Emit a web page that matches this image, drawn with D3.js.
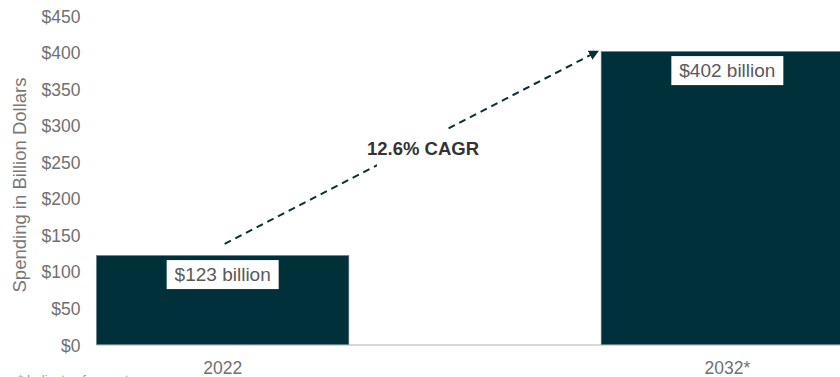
<!DOCTYPE html>
<html>
<head>
<meta charset="utf-8">
<script src="https://cdn.jsdelivr.net/npm/d3@7"></script>
<style>
  body { margin: 0; background: #fff; }
  svg { display: block; font-family: "Liberation Sans", Arial, sans-serif; }
</style>
</head>
<body>
<div id="chart"></div>
<script>
// chart data
const years = ["2022", "2032*"];
const spending = [123, 402];
const barLabels = ["$123 billion", "$402 billion"];
const yTicks = [0, 50, 100, 150, 200, 250, 300, 350, 400, 450];
const cagrText = "12.6% CAGR";
const arrowStart = 139; // value where the dashed arrow starts above 2022

var width = 840, height = 377;

var svg = d3.select("#chart").append("svg")
  .attr("width", width)
  .attr("height", height);

const xScale = d3.scaleBand()
  .domain(years)
  .range([96.5, 853.5])
  .paddingInner(0.5)
  .paddingOuter(0);

const yScale = d3.scaleLinear()
  .domain([0, 450])
  .range([345.5, 16.5]);

// y axis labels only
const yAxis = d3.axisLeft(yScale)
  .tickValues(yTicks)
  .tickSize(0)
  .tickPadding(0)
  .tickFormat(d => "$" + d);

svg.append("g")
  .attr("transform", "translate(80.5,0)")
  .call(yAxis)
  .call(g => g.select(".domain").remove())
  .selectAll("text")
  .attr("fill", "#707070")
  .style("font-size", "17.5px")
  .style("font-family", "Liberation Sans, Arial, sans-serif");

svg.append("text")
  .attr("transform", `translate(26,${(yScale(0) + yScale(450)) / 2 + 4}) rotate(-90)`)
  .attr("text-anchor", "middle")
  .attr("fill", "#777")
  .style("font-size", "18.5px")
  .text("Spending in Billion Dollars");

// baseline
svg.append("line")
  .attr("x1", xScale.range()[0])
  .attr("x2", width)
  .attr("y1", yScale(0) - 0.5)
  .attr("y2", yScale(0) - 0.5)
  .attr("stroke", "#d9d9d9")
  .attr("stroke-width", 2);

// bars
svg.selectAll("rect.bar")
  .data(years)
  .enter()
  .append("rect")
  .attr("class", "bar")
  .attr("x", d => xScale(d))
  .attr("y", (d, i) => yScale(spending[i]))
  .attr("width", xScale.bandwidth())
  .attr("height", (d, i) => yScale(0) - yScale(spending[i]) - 1)
  .attr("fill", "#00303a")
  .attr("stroke", "#587a80")
  .attr("stroke-width", 0.6);

// x axis
const xAxis = d3.axisBottom(xScale).tickSize(0).tickPadding(0);
svg.append("g")
  .attr("transform", `translate(0,${yScale(0) + 16})`)
  .call(xAxis)
  .call(g => g.select(".domain").remove())
  .selectAll("text")
  .attr("dy", "0.71em")
  .attr("fill", "#707070")
  .style("font-size", "17.5px")
  .style("font-family", "Liberation Sans, Arial, sans-serif");

// value label boxes
const lab = svg.selectAll("g.lab")
  .data(years)
  .enter()
  .append("g")
  .attr("class", "lab")
  .attr("transform", (d, i) =>
    `translate(${xScale(d) + xScale.bandwidth() / 2},${yScale(spending[i]) + 19})`);

lab.append("rect")
  .attr("x", -56)
  .attr("y", -14.5)
  .attr("width", 112)
  .attr("height", 29)
  .attr("fill", "#fff");

lab.append("text")
  .attr("text-anchor", "middle")
  .attr("dy", "0.36em")
  .attr("fill", "#595959")
  .style("font-size", "19px")
  .text((d, i) => barLabels[i]);

// dashed CAGR arrow
svg.append("defs").append("marker")
  .attr("id", "arrow")
  .attr("viewBox", "0 0 10 10")
  .attr("refX", 8)
  .attr("refY", 5)
  .attr("markerWidth", 5)
  .attr("markerHeight", 5)
  .attr("orient", "auto")
  .append("path")
  .attr("d", "M0,0 L10,5 L0,10 Z")
  .attr("fill", "#0b2f36");

const ax1 = xScale(years[0]) + xScale.bandwidth() / 2 + 2,
      ay1 = yScale(arrowStart),
      ax2 = xScale(years[1]) - 4,
      ay2 = yScale(spending[1]);

svg.append("line")
  .attr("x1", ax1)
  .attr("y1", ay1)
  .attr("x2", ax2)
  .attr("y2", ay2)
  .attr("stroke", "#0b2f36")
  .attr("stroke-width", 2)
  .attr("stroke-dasharray", "7,5")
  .attr("marker-end", "url(#arrow)");

const mx = 423, my = 148;
svg.append("rect")
  .attr("x", 377)
  .attr("y", my - 24)
  .attr("width", 70)
  .attr("height", 50)
  .attr("fill", "#fff");

svg.append("text")
  .attr("x", mx)
  .attr("y", my)
  .attr("dy", "0.36em")
  .attr("text-anchor", "middle")
  .attr("font-weight", "bold")
  .attr("fill", "#333")
  .style("font-size", "18.5px")
  .text(cagrText);

// footnote (cut off by the bottom edge, as in the source)
svg.append("text")
  .attr("x", 18)
  .attr("y", 384)
  .attr("fill", "#9a9a9a")
  .style("font-size", "13px")
  .text("* Indicates forecast");
</script>
</body>
</html>
